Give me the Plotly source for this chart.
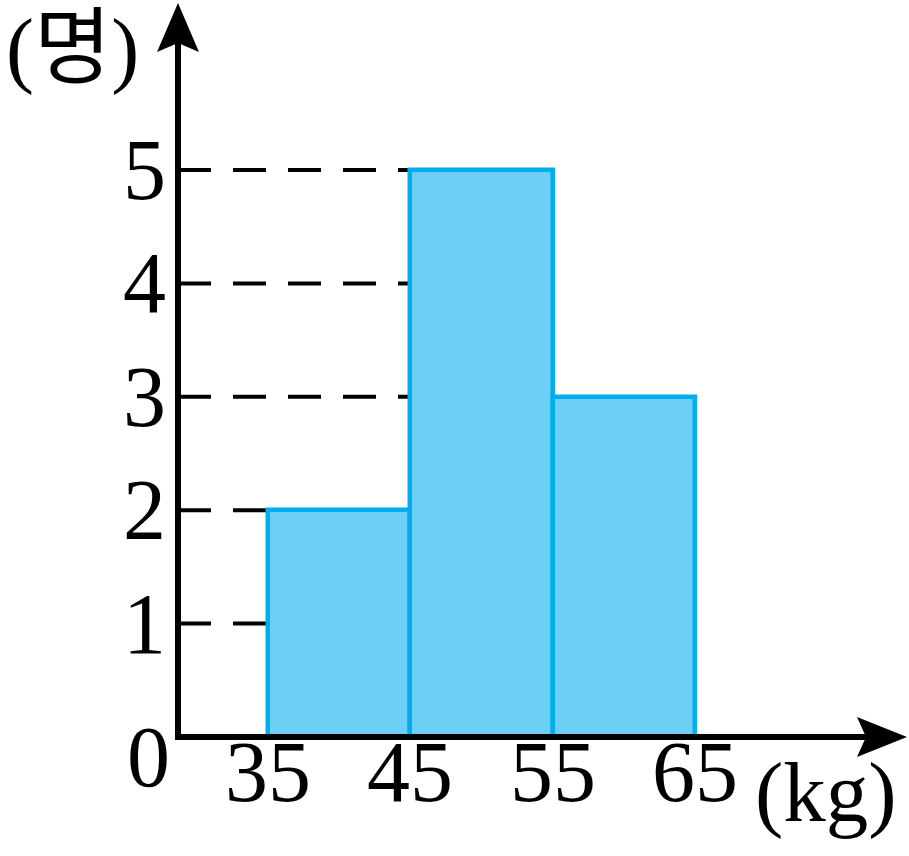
import plotly.graph_objects as go

# ---- data ----
bin_edges = [35, 45, 55, 65]
counts = [2, 5, 3]
y_ticks = [1, 2, 3, 4, 5]
x_tick_labels = ["35", "45", "55", "65"]
y_unit = "(명)"
x_unit = "(kg)"

# ---- layout constants ----
W, H = 909, 856
PX_X = 14.233          # pixels per kg
PX_Y = 113.4           # pixels per person
X35_PX = 268           # pixel column of first bin edge
Y0_PX = 737            # pixel row of count 0
x_lo = bin_edges[0] - X35_PX / PX_X
x_hi = x_lo + W / PX_X
y_hi = Y0_PX / PX_Y
y_lo = y_hi - H / PX_Y

AXIS_X0 = x_lo + 178 / PX_X      # y-axis position (broken x-axis)
X_TIP = x_lo + 907 / PX_X
Y_TIP = y_hi - 3 / PX_Y

FILL = "#6DCFF6"
EDGE = "#00AEEF"
FONT = "Liberation Serif, Noto Sans CJK KR, serif"
FS = 86

mids = [(a + b) / 2 for a, b in zip(bin_edges[:-1], bin_edges[1:])]
widths = [b - a for a, b in zip(bin_edges[:-1], bin_edges[1:])]

fig = go.Figure()
fig.add_trace(go.Bar(
    x=mids, y=counts, width=widths,
    marker=dict(color=FILL, line=dict(color=EDGE, width=4.5)),
    hoverinfo="skip", showlegend=False,
))

shapes = []
# dashed guide lines
for t in y_ticks:
    edge = next(bin_edges[i] for i, c in enumerate(counts) if c >= t)
    shapes.append(dict(type="line", xref="x", yref="y",
                       x0=AXIS_X0, x1=edge, y0=t, y1=t,
                       line=dict(color="black", width=4, dash="33px,22px"),
                       layer="below"))
# axes
shapes.append(dict(type="line", xref="x", yref="y",
                   x0=AXIS_X0, x1=AXIS_X0, y0=-3 / PX_Y, y1=Y_TIP - 36 / PX_Y,
                   line=dict(color="black", width=6), layer="above"))
shapes.append(dict(type="line", xref="x", yref="y",
                   x0=AXIS_X0 - 3 / PX_X, x1=X_TIP - 38 / PX_X, y0=0, y1=0,
                   line=dict(color="black", width=6), layer="above"))
# arrow heads
shapes.append(dict(type="path", xref="x", yref="y",
                   xsizemode="pixel", ysizemode="pixel",
                   xanchor=AXIS_X0, yanchor=Y_TIP,
                   path="M 0 0 L -21 -49 L 0 -40 L 21 -49 Z",
                   fillcolor="black", line=dict(width=0), layer="above"))
shapes.append(dict(type="path", xref="x", yref="y",
                   xsizemode="pixel", ysizemode="pixel",
                   xanchor=X_TIP, yanchor=0,
                   path="M 0 0 L -50 20 L -41 0 L -50 -20 Z",
                   fillcolor="black", line=dict(width=0), layer="above"))

annotations = []
for t in y_ticks:
    annotations.append(dict(x=AXIS_X0, y=t, xref="x", yref="y", text=str(t),
                            showarrow=False, xanchor="right", yanchor="middle",
                            xshift=-10, yshift=0,
                            font=dict(family=FONT, size=FS, color="black")))
for e, lab in zip(bin_edges, x_tick_labels):
    annotations.append(dict(x=e, y=0, xref="x", yref="y", text=lab,
                            showarrow=False, xanchor="center", yanchor="top",
                            yshift=15,
                            font=dict(family=FONT, size=FS, color="black")))
annotations.append(dict(x=AXIS_X0, y=0, xref="x", yref="y", text="0",
                        showarrow=False, xanchor="right", yanchor="top",
                        xshift=-6, yshift=30,
                        font=dict(family=FONT, size=FS, color="black")))
annotations.append(dict(x=753 / W, y=1 - 743 / H, xref="paper", yref="paper",
                        text=x_unit, showarrow=False, xanchor="left", yanchor="top",
                        font=dict(family=FONT, size=85, color="black")))
annotations.append(dict(x=4 / W, y=1, xref="paper", yref="paper",
                        text=y_unit, showarrow=False, xanchor="left", yanchor="top",
                        font=dict(family=FONT, size=84, color="black")))

fig.update_layout(
    width=W, height=H, margin=dict(l=0, r=0, t=0, b=0),
    paper_bgcolor="white", plot_bgcolor="white",
    xaxis=dict(range=[x_lo, x_hi], visible=False, fixedrange=True),
    yaxis=dict(range=[y_lo, y_hi], visible=False, fixedrange=True),
    shapes=shapes, annotations=annotations, bargap=0,
)
fig.write_html("out.html", config={"displayModeBar": False},
               post_script="document.body.style.margin='0';")
